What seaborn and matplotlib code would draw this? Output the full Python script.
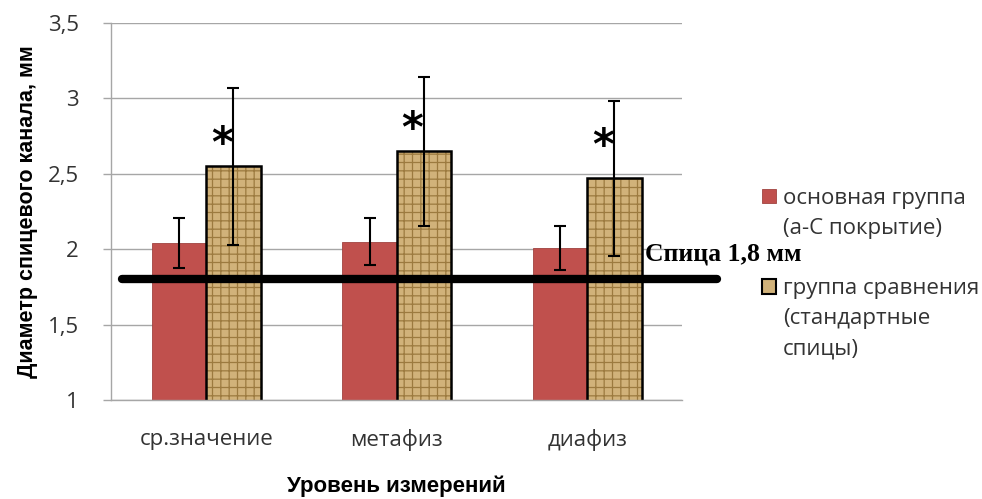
import numpy as np
import pandas as pd
import matplotlib
matplotlib.use("Agg")
import matplotlib.pyplot as plt
import seaborn as sns
from matplotlib.patches import Patch, Rectangle

# - Data -
levels = ["ср.значение", "метафиз", "диафиз"]
groups = ["основная группа\n(а-С покрытие)", "группа сравнения\n(стандартные\nспицы)"]
main_mean = [2.04, 2.05, 2.01]
main_err = [0.165, 0.155, 0.145]
comp_mean = [2.55, 2.65, 2.47]
comp_err = [0.52, 0.495, 0.515]
star_y = [2.69, 2.79, 2.68]
pin_diameter = 1.8
pin_label = "Спица 1,8 мм"
yticks = [1, 1.5, 2, 2.5, 3, 3.5]
ytick_labels = ["1", "1,5", "2", "2,5", "3", "3,5"]

red = "#C0504D"
tan = "#D1B27A"
grey = "#A6A6A6"
text_col = "#333333"

sns.set_theme(style="white")
plt.rcParams['font.family'] = ['Open Sans', 'DejaVu Sans']
plt.rcParams['hatch.linewidth'] = 0.9
bold_font = ['Liberation Sans', 'DejaVu Sans']

df = pd.DataFrame({
    "level": levels * 2,
    "group": [groups[0]] * 3 + [groups[1]] * 3,
    "value": main_mean + comp_mean,
})

fig = plt.figure(figsize=(9.82, 4.99), dpi=100)
ax = fig.add_axes([0.113, 0.198, 0.582, 0.756])
sns.barplot(data=df, x="level", y="value", hue="group", palette=[red, tan],
            width=0.57, gap=0, saturation=1, legend=False, ax=ax)

red_bars, tan_bars = ax.containers[0], ax.containers[1]
for p in red_bars:
    p.set_edgecolor("#A04340")
    p.set_linewidth(0.6)
for p in tan_bars:
    p.set_hatch("++")
    p.set_edgecolor("#9C7A3F")
    p.set_linewidth(0)
    ax.add_patch(Rectangle(p.get_xy(), p.get_width(), p.get_height(),
                           fill=False, edgecolor="black", linewidth=1.8, zorder=p.get_zorder() + 0.1))

# - Error bars -
red_x = [p.get_x() + p.get_width() / 2 for p in red_bars]
tan_x = [p.get_x() + p.get_width() / 2 for p in tan_bars]
ax.errorbar(red_x, main_mean, yerr=main_err, fmt="none", ecolor="black",
            elinewidth=1.5, capsize=4, capthick=1.5, zorder=5)
ax.errorbar(tan_x, comp_mean, yerr=comp_err, fmt="none", ecolor="black",
            elinewidth=1.5, capsize=4, capthick=1.5, zorder=5)

# - Significance stars -
for xx, yy in zip(tan_x, star_y):
    ax.text(xx - 0.06, yy, "*", ha="center", va="center", fontsize=30,
            fontweight="bold", color="black", family="DejaVu Sans", zorder=6)

# - Pin diameter line -
ax.axhline(pin_diameter, xmin=0.019, xmax=1.061, color="black", linewidth=6,
           clip_on=False, zorder=7)
ax.text(0.935, pin_diameter + 0.17, pin_label, transform=ax.get_yaxis_transform(),
        ha="left", va="center", fontsize=18.5, fontweight="bold",
        family="Liberation Serif", color="black", clip_on=False)

# - Axes styling -
ax.set_ylim(1, 3.5)
ax.set_xlim(-0.5, 2.5)
ax.set_yticks(yticks)
ax.set_yticklabels(ytick_labels)
ax.yaxis.grid(True, color=grey, linewidth=1)
ax.set_axisbelow(True)
for s in ["top", "right"]:
    ax.spines[s].set_visible(False)
for s in ["left", "bottom"]:
    ax.spines[s].set_color(grey)
    ax.spines[s].set_linewidth(1)
ax.set_xticks([-0.5, 0.5, 1.5, 2.5], minor=True)
ax.tick_params(axis="x", which="major", length=0, pad=21, labelsize=16, labelcolor=text_col)
ax.tick_params(axis="x", which="minor", length=6, color=grey, width=1)
ax.tick_params(axis="y", length=6, color=grey, width=1, pad=17, labelsize=16, labelcolor=text_col, left=True)

ax.set_xlabel("Уровень измерений", fontsize=16, fontweight="bold", color="black",
              labelpad=17.5, family=bold_font)
ax.set_ylabel("Диаметр спицевого канала, мм", fontsize=15.5, fontweight="bold", color="black",
              labelpad=7, family=bold_font)

# - Legend: one row per text line so the box sits on the first line -
leg_handles, leg_labels = [], []
swatches = [Patch(facecolor=red, edgecolor="#A04340", linewidth=0.6),
            Patch(facecolor=tan, edgecolor="black", linewidth=1.5)]
for i, (sw, name) in enumerate(zip(swatches, groups)):
    if i > 0:
        leg_handles.append(Patch(facecolor="none", edgecolor="none"))
        leg_labels.append(" ")
    for j, line in enumerate(name.split("\n")):
        leg_handles.append(sw if j == 0 else Patch(facecolor="none", edgecolor="none"))
        leg_labels.append(line)
fig.legend(handles=leg_handles, labels=leg_labels, loc="upper left",
           bbox_to_anchor=(742 / 982, 1 - 168 / 499), frameon=False,
           handlelength=0.65, handleheight=0.6, handletextpad=0.3,
           labelspacing=0.41, fontsize=16, labelcolor=text_col)

plt.savefig("out.png", dpi=100)
plt.close()
